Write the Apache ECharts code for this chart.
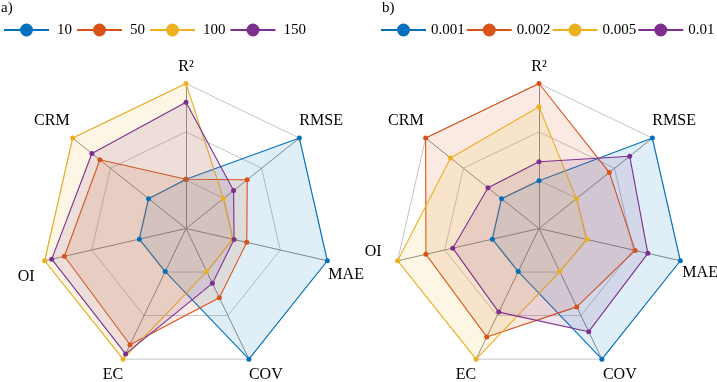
<!DOCTYPE html>
<html><head><meta charset="utf-8">
<script src="https://cdn.jsdelivr.net/npm/echarts@6/dist/echarts.min.js"></script>
<style>html,body{margin:0;padding:0;background:#fff}#c{width:717px;height:382px}</style>
</head><body><div id="c"></div>
<script>
// Axes in ECharts (counter-clockwise) order starting at top
const metrics = ['R²', 'CRM', 'OI', 'EC', 'COV', 'MAE', 'RMSE'];

// Panel a) — normalised radius (0..1) per metric
const namesA = ['10', '50', '100', '150'];
const a_10  = [0.34, 0.33, 0.33, 0.33, 1.00, 1.00, 1.00];
const a_50  = [0.34, 0.76, 0.86, 0.89, 0.53, 0.43, 0.54];
const a_100 = [1.00, 1.00, 1.00, 1.00, 0.33, 0.33, 0.33];
const a_150 = [0.87, 0.83, 0.95, 0.96, 0.42, 0.34, 0.42];

// Panel b)
const namesB = ['0.001', '0.002', '0.005', '0.01'];
const b_0001 = [0.33, 0.33, 0.33, 0.33, 1.00, 1.00, 1.00];
const b_0002 = [1.00, 1.00, 0.80, 0.83, 0.60, 0.68, 0.62];
const b_0005 = [0.84, 0.78, 1.00, 1.00, 0.33, 0.34, 0.33];
const b_001  = [0.46, 0.45, 0.61, 0.64, 0.79, 0.77, 0.80];

const valsA = [a_10, a_50, a_100, a_150];
const valsB = [b_0001, b_0002, b_0005, b_001];
const colors = ['#0072BD', '#D95319', '#EDB120', '#7E2F8E'];

const FONT = 'Liberation Serif';
const keyOf = {'R²': 'r2', 'CRM': 'crm', 'OI': 'oi', 'EC': 'ec', 'COV': 'cov', 'MAE': 'mae', 'RMSE': 'rmse'};
function rich(pads) {
  const r = {};
  Object.keys(pads).forEach(k => {
    r[k] = {fontFamily: FONT, fontSize: 16, color: '#000', padding: pads[k]};
  });
  return r;
}
const padA = {r2: [0,0,9,0], crm: [0,3,34,0], oi: [32,10,0,0], ec: [32,0,0,0], cov: [32,0,0,0], mae: [28,0,0,1], rmse: [0,0,34,0]};
const padB = {r2: [0,0,9,0], crm: [0,2,34,0], oi: [0,16,18,0], ec: [32,0,0,0], cov: [32,0,0,1], mae: [24,0,0,2], rmse: [0,0,34,0]};

function radarCfg(cx, pads) {
  return {
    center: [cx, 228.5],
    radius: 145,
    startAngle: 90,
    splitNumber: 3,
    shape: 'polygon',
    indicator: metrics.map(m => ({name: m, min: 0, max: 1})),
    nameGap: 0,
    axisName: {
      color: '#000', fontFamily: FONT, fontSize: 16,
      formatter: (name) => '{' + keyOf[name] + '|' + name + '}',
      rich: rich(pads)
    },
    splitLine: {lineStyle: {color: '#c6c6c6', width: 1}},
    splitArea: {show: false},
    axisLine: {lineStyle: {color: '#8c8c8c', width: 1}},
    axisTick: {show: false},
    axisLabel: {show: false}
  };
}

const ICON = 'path://M0,5.5L45,5.5L45,7.5L0,7.5Z M29,6.5A6.5,6.5,0,1,1,16,6.5A6.5,6.5,0,1,1,29,6.5Z';
function legendCfg(names, left, textPad, gap, width) {
  return {
    left: left, top: 22.5, orient: 'horizontal', padding: 0, width: width,
    itemWidth: 45, itemHeight: 13, itemGap: gap, selectedMode: false,
    icon: ICON,
    textStyle: {fontFamily: FONT, fontSize: 15, color: '#000', padding: [0,0,0,textPad]},
    data: names.map((n, i) => ({name: n, icon: ICON, itemStyle: {color: colors[i], borderWidth: 0, opacity: 1}, lineStyle: {width: 0}}))
  };
}

function seriesFor(names, vals, radarIndex) {
  return names.map((n, i) => ({
    type: 'radar', name: n, radarIndex: radarIndex,
    symbol: 'circle', symbolSize: 5,
    itemStyle: {color: colors[i], borderWidth: 0},
    lineStyle: {color: colors[i], width: 1.1},
    areaStyle: {color: colors[i], opacity: 0.12},
    emphasis: {disabled: true},
    data: [{name: n, value: vals[i]}]
  }));
}

const chart = echarts.init(document.getElementById('c'), null, {renderer: 'canvas'});
chart.setOption({
  backgroundColor: '#fff',
  animation: false,
  title: [
    {text: 'a)', left: 1, top: 1, padding: 0, textStyle: {fontFamily: FONT, fontSize: 15, fontWeight: 'normal', color: '#000'}},
    {text: 'b)', left: 382, top: 1, padding: 0, textStyle: {fontFamily: FONT, fontSize: 15, fontWeight: 'normal', color: '#000'}}
  ],
  legend: [legendCfg(namesA, 4, 3, 5, 340), legendCfg(namesB, 381, 0, 2, 400)],
  radar: [radarCfg(186, padA), radarCfg(539, padB)],
  series: seriesFor(namesA, valsA, 0).concat(seriesFor(namesB, valsB, 1))
});
</script></body></html>
